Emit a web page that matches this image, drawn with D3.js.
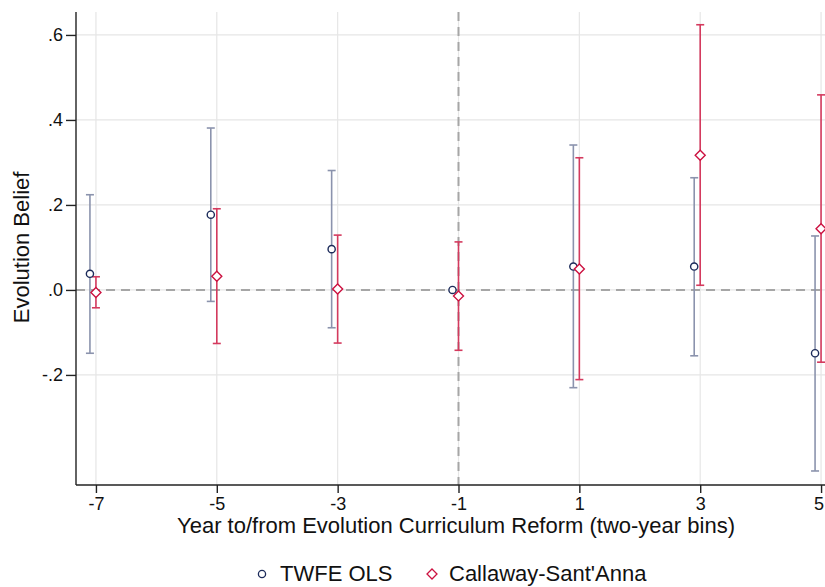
<!DOCTYPE html>
<html>
<head>
<meta charset="utf-8">
<script src="https://cdn.jsdelivr.net/npm/d3@7"></script>
<style>
  html, body { margin: 0; padding: 0; background: #fff; }
  svg { display: block; font-family: "Liberation Sans", Arial, sans-serif; }
</style>
</head>
<body>
<svg id="chart" width="825" height="587"></svg>
<script>
// Event-study estimates, by two-year bin relative to the reform
const periods = [-7, -5, -3, -1, 1, 3, 5];

const twfeEst   = [0.038, 0.177, 0.096, 0.000, 0.055, 0.055, -0.149];
const twfeLower = [-0.149, -0.027, -0.089, null, -0.230, -0.155, -0.426];
const twfeUpper = [0.224, 0.381, 0.281, null, 0.341, 0.264, 0.127];

const csEst   = [-0.006, 0.032, 0.002, -0.014, 0.049, 0.317, 0.144];
const csLower = [-0.042, -0.126, -0.125, -0.142, -0.211, 0.011, -0.170];
const csUpper = [0.031, 0.191, 0.129, 0.113, 0.311, 0.624, 0.459];

const yTicks = [-0.2, 0, 0.2, 0.4, 0.6];
const yTickLabels = ["-.2", ".0", ".2", ".4", ".6"];
const xTickLabels = ["-7", "-5", "-3", "-1", "1", "3", "5"];
const seriesNames = ["TWFE OLS", "Callaway-Sant'Anna"];

const colTwfe = "#1c2b5a", colTwfeCI = "#8b93ad";
const colCs = "#cc1140", colCsCI = "#d43a5e";

const svg = d3.select("#chart");
const plot = { left: 76, right: 841, top: 12, bottom: 485 };
const viewRight = 825;

const x = d3.scaleLinear().domain([-7.33, 5.33]).range([plot.left, plot.right]);
const y = d3.scaleLinear().domain([-0.459, 0.654]).range([plot.bottom, plot.top]);

// grid
const grid = svg.append("g");
grid.selectAll("line.gy").data(yTicks).join("line")
  .attr("x1", plot.left).attr("x2", plot.right)
  .attr("y1", d => y(d)).attr("y2", d => y(d))
  .attr("stroke", "#e6e6e6").attr("stroke-width", 1.2);
grid.selectAll("line.gx").data(periods).join("line")
  .attr("y1", plot.top).attr("y2", plot.bottom)
  .attr("x1", d => x(d)).attr("x2", d => x(d))
  .attr("stroke", "#e6e6e6").attr("stroke-width", 1.2);

// reference lines at zero and at the omitted bin
svg.append("line")
  .attr("x1", plot.left).attr("x2", plot.right)
  .attr("y1", y(0)).attr("y2", y(0))
  .attr("stroke", "#a6a6a6").attr("stroke-width", 2).attr("stroke-dasharray", "9,6");
svg.append("line")
  .attr("x1", x(-1)).attr("x2", x(-1))
  .attr("y1", plot.top).attr("y2", plot.bottom)
  .attr("stroke", "#a6a6a6").attr("stroke-width", 2).attr("stroke-dasharray", "9,6");

// axes
const yAxis = d3.axisLeft(y).tickValues(yTicks)
  .tickFormat((d, i) => yTickLabels[i]).tickSize(10).tickPadding(3);
const gy = svg.append("g").attr("transform", `translate(${plot.left},0)`).call(yAxis);
gy.select(".domain").attr("d", `M0,${plot.top}V${plot.bottom}`).attr("stroke", "#222").attr("stroke-width", 1.4);
gy.selectAll(".tick line").attr("stroke", "#222").attr("stroke-width", 1.4);
gy.selectAll(".tick text").attr("font-size", 18).attr("fill", "#111")
  .attr("font-family", "Liberation Sans, Arial, sans-serif");

const xAxis = d3.axisBottom(x).tickValues(periods)
  .tickFormat((d, i) => xTickLabels[i]).tickSize(8).tickPadding(4);
const gx = svg.append("g").attr("transform", `translate(0,${plot.bottom})`).call(xAxis);
gx.select(".domain").attr("d", `M${plot.left},0H${plot.right}`).attr("stroke", "#222").attr("stroke-width", 1.4);
gx.selectAll(".tick line").attr("stroke", "#222").attr("stroke-width", 1.4);
gx.selectAll(".tick text").attr("font-size", 18).attr("fill", "#111")
  .attr("font-family", "Liberation Sans, Arial, sans-serif")
  .each(function () {
    // keep the last label inside the visible area
    const tick = d3.select(this.parentNode);
    const tx = +tick.attr("transform").match(/translate\(([-\d.]+)/)[1];
    const w = this.getComputedTextLength();
    const overflow = tx + w / 2 - (viewRight - 1);
    if (overflow > 0) d3.select(this).attr("dx", -overflow);
  });

// axis titles
svg.append("text")
  .attr("x", 456).attr("y", 533)
  .attr("text-anchor", "middle").attr("font-size", 22).attr("fill", "#111")
  .text("Year to/from Evolution Curriculum Reform (two-year bins)");
svg.append("text")
  .attr("transform", `translate(28.5,${y(0.1)}) rotate(-90)`)
  .attr("text-anchor", "middle").attr("font-size", 22).attr("fill", "#111")
  .text("Evolution Belief");

// confidence intervals with caps
function drawCI(g, xs, lo, hi, color) {
  const rows = periods.map((p, i) => ({ x: xs(p), lo: lo[i], hi: hi[i] }))
    .filter(r => r.lo !== null && r.hi !== null);
  g.selectAll("line.ci").data(rows).join("line")
    .attr("x1", d => d.x).attr("x2", d => d.x)
    .attr("y1", d => y(d.lo)).attr("y2", d => y(d.hi))
    .attr("stroke", color).attr("stroke-width", 1.6);
  ["lo", "hi"].forEach(k => {
    g.selectAll("line.cap" + k).data(rows).join("line")
      .attr("x1", d => d.x - 4).attr("x2", d => d.x + 4)
      .attr("y1", d => y(d[k])).attr("y2", d => y(d[k]))
      .attr("stroke", color).attr("stroke-width", 1.6);
  });
}

const twfeX = p => x(p) - 6;
const csX = p => x(p);

drawCI(svg.append("g"), twfeX, twfeLower, twfeUpper, colTwfeCI);
drawCI(svg.append("g"), csX, csLower, csUpper, colCsCI);

// point estimates
svg.append("g").selectAll("circle").data(periods).join("circle")
  .attr("cx", d => twfeX(d)).attr("cy", (d, i) => y(twfeEst[i])).attr("r", 3.6)
  .attr("fill", "#fff").attr("stroke", colTwfe).attr("stroke-width", 1.4);

const diamond = (cx, cy, r) => `M${cx},${cy - r}L${cx + r},${cy}L${cx},${cy + r}L${cx - r},${cy}Z`;
svg.append("g").selectAll("path").data(periods).join("path")
  .attr("d", (d, i) => diamond(csX(d), y(csEst[i]), 5))
  .attr("fill", "#fff").attr("stroke", colCs).attr("stroke-width", 1.4);

// legend
const leg = svg.append("g");
leg.append("circle").attr("cx", 262).attr("cy", 574).attr("r", 3.6)
  .attr("fill", "#fff").attr("stroke", colTwfe).attr("stroke-width", 1.3);
leg.append("text").attr("x", 280).attr("y", 581).attr("font-size", 22).attr("fill", "#111")
  .text(seriesNames[0]);
leg.append("path").attr("d", diamond(432, 574, 5))
  .attr("fill", "#fff").attr("stroke", colCs).attr("stroke-width", 1.3);
leg.append("text").attr("x", 449).attr("y", 581).attr("font-size", 22).attr("fill", "#111")
  .text(seriesNames[1]);
</script>
</body>
</html>
